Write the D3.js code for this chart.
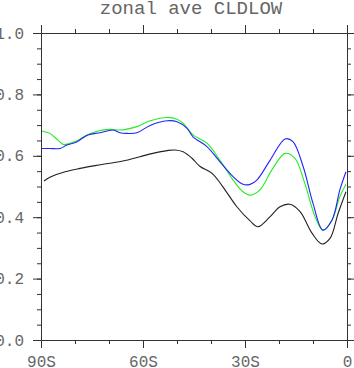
<!DOCTYPE html>
<html>
<head>
<meta charset="utf-8">
<script src="https://cdn.jsdelivr.net/npm/d3@7"></script>
<style>
  body { margin: 0; background: #fff; }
  text { font-family: "Liberation Mono", "DejaVu Sans Mono", monospace; fill: #666; }
</style>
</head>
<body>
<div id="chart"></div>
<script>
// zonal average low cloud fraction, three cases
const latBlack = [-89.1, -87.4, -82.9, -78.5, -74.1, -69.7, -65.9, -60.9, -57.1, -52.9, -50.6, -48.2, -45.6, -43.2, -39.7, -36.5, -32.4, -28.5, -26.2, -22.6, -19.7, -16.8, -13.8, -10.3, -7.4, -5.0, -2.6, -0.3];
const valBlack = [0.518, 0.530, 0.548, 0.559, 0.568, 0.576, 0.583, 0.597, 0.608, 0.617, 0.619, 0.613, 0.592, 0.565, 0.543, 0.499, 0.434, 0.388, 0.369, 0.402, 0.434, 0.442, 0.418, 0.348, 0.313, 0.331, 0.413, 0.483];

const latGreen = [-89.7, -87.4, -85.0, -83.5, -81.5, -79.4, -76.5, -73.2, -69.7, -66.8, -64.7, -61.8, -57.9, -52.9, -50.0, -48.2, -45.3, -41.2, -37.4, -33.5, -30.6, -28.5, -25.6, -22.1, -18.2, -15.3, -12.4, -9.4, -7.1, -4.4, -2.1, -0.3];
const valGreen = [0.681, 0.673, 0.651, 0.637, 0.641, 0.649, 0.668, 0.681, 0.686, 0.684, 0.687, 0.695, 0.714, 0.725, 0.719, 0.706, 0.668, 0.641, 0.586, 0.521, 0.483, 0.472, 0.489, 0.554, 0.608, 0.592, 0.510, 0.402, 0.358, 0.391, 0.467, 0.507];

const latBlue = [-89.7, -87.4, -84.4, -82.4, -79.4, -76.2, -72.6, -68.8, -66.8, -64.7, -61.8, -57.9, -52.9, -50.0, -47.1, -45.3, -41.2, -37.4, -33.5, -30.6, -28.5, -26.5, -22.6, -18.2, -15.9, -12.9, -10.0, -7.1, -4.4, -2.1, -0.3];
const valBlue = [0.624, 0.624, 0.624, 0.635, 0.646, 0.668, 0.675, 0.684, 0.675, 0.673, 0.675, 0.699, 0.714, 0.711, 0.690, 0.662, 0.630, 0.581, 0.532, 0.507, 0.507, 0.521, 0.586, 0.655, 0.646, 0.565, 0.445, 0.358, 0.391, 0.489, 0.548];

const xTicks = [-90, -60, -30, 0];
const xTickLabels = ["90S", "60S", "30S", "0"];
const yTicks = [0, 0.2, 0.4, 0.6, 0.8, 1.0];

const series = [
  {name: "black", lat: latBlack, val: valBlack, color: "#222"},
  {name: "green", lat: latGreen, val: valGreen, color: "#22ee22"},
  {name: "blue",  lat: latBlue,  val: valBlue,  color: "#2222ff"}
];

const margin = {top: 33, right: 7, bottom: 28, left: 41},
    width = 354 - margin.left - margin.right,
    height = 368 - margin.top - margin.bottom;

const svg = d3.select("#chart")
  .append("svg")
    .attr("width", 354)
    .attr("height", 368)
  .append("g")
    .attr("transform", `translate(${margin.left},${margin.top})`);

const x = d3.scaleLinear().domain([-90, 0]).range([0, width]);
const y = d3.scaleLinear().domain([0, 1]).range([height, 0]);

const minorX = d3.range(-90, 1, 10);
const minorY = d3.range(0, 1.0001, 0.05);

// minor ticks on all four sides
function minor(axis, vals) {
  return axis.tickValues(vals).tickSize(4).tickSizeOuter(0).tickFormat("");
}
svg.append("g").attr("transform", `translate(0,${height})`).call(minor(d3.axisBottom(x), minorX));
svg.append("g").call(minor(d3.axisTop(x), minorX));
svg.append("g").call(minor(d3.axisLeft(y), minorY));
svg.append("g").attr("transform", `translate(${width},0)`).call(minor(d3.axisRight(y), minorY));

// major ticks + labels
const xb = svg.append("g")
  .attr("transform", `translate(0,${height})`)
  .call(d3.axisBottom(x).tickValues(xTicks).tickSize(8).tickSizeOuter(0)
    .tickPadding(8).tickFormat((d, i) => xTickLabels[i]));
svg.append("g").call(d3.axisTop(x).tickValues(xTicks).tickSize(8).tickSizeOuter(0).tickFormat(""));
const yl = svg.append("g")
  .call(d3.axisLeft(y).tickValues(yTicks).tickSize(8).tickSizeOuter(0)
    .tickPadding(9).tickFormat(d3.format(".1f")));
svg.append("g").attr("transform", `translate(${width},0)`)
  .call(d3.axisRight(y).tickValues(yTicks).tickSize(8).tickSizeOuter(0).tickFormat(""));

svg.selectAll(".domain, .tick line").attr("stroke", "#333");
xb.selectAll("text").style("font-size", "16px").attr("fill", "#666");
yl.selectAll("text").style("font-size", "16px").attr("fill", "#666");

// the lines
const line = d3.line()
  .x(d => x(d[0]))
  .y(d => y(d[1]))
  .curve(d3.curveCatmullRom.alpha(0.5));

svg.selectAll("myLines")
  .data(series)
  .join("path")
    .attr("d", d => line(d.lat.map((v, i) => [v, d.val[i]])))
    .attr("stroke", d => d.color)
    .style("stroke-width", 1.1)
    .style("fill", "none");

// title
svg.append("text")
  .attr("x", width / 2 - 3)
  .attr("y", -19)
  .attr("text-anchor", "middle")
  .style("font-size", "19px")
  .text("zonal ave CLDLOW");
</script>
</body>
</html>
